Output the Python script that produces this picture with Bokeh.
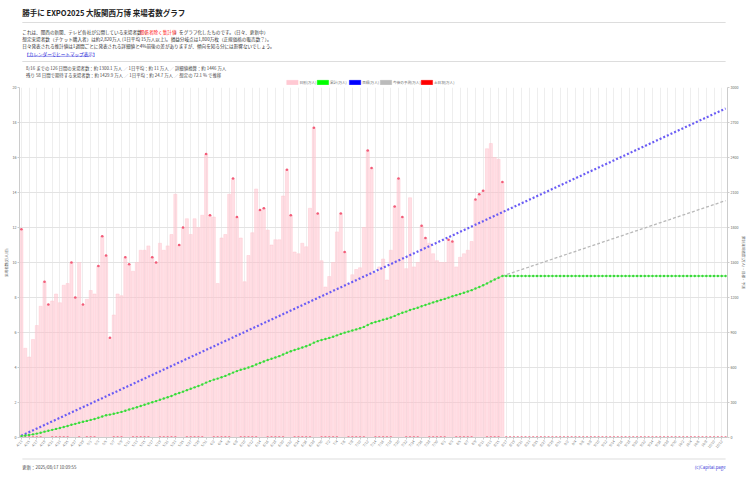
import numpy as np
import pandas as pd
from bokeh.plotting import figure
from bokeh.models import Range1d, LinearAxis, FixedTicker
from bokeh.layouts import column
from bokeh.core.properties import value
from bokeh.embed import file_html
from bokeh.resources import INLINE

FONT = "Noto Sans CJK JP"

# ---------------- data ----------------
start_date = "2025-04-13"
n_days_total = 184
daily = [
    11.9, 5.1, 4.6, 5.6, 6.4, 7.5, 8.9, 7.6, 7.8, 8.2,
    7.7, 8.7, 8.8, 10.0, 8.0, 10.0, 7.6, 7.9, 8.4, 8.2,
    9.8, 11.5, 10.4, 5.7, 7.0, 8.2, 8.1, 10.3, 9.9, 9.5,
    10.0, 10.7, 10.7, 10.95, 10.3, 10.0, 11.1, 10.7, 10.95, 11.6,
    13.9, 11.0, 12.0, 12.5, 11.6, 12.5, 12.0, 12.7, 16.2, 12.7,
    12.6, 8.8, 11.4, 11.6, 13.9, 14.8, 12.6, 11.4, 8.9, 10.4,
    11.7, 14.2, 13.0, 13.1, 11.85, 11.0, 11.3, 11.3, 13.8, 15.3,
    12.7, 10.6, 10.5, 11.1, 10.9, 13.1, 17.7, 12.8, 10.1, 8.6,
    9.2, 10.0, 11.75, 12.8, 10.6, 8.8, 9.3, 9.6, 9.7, 12.0,
    16.4, 15.4, 9.4, 9.75, 10.2, 9.0, 10.7, 13.2, 14.8, 12.6,
    9.65, 13.7, 9.75, 10.0, 12.1, 11.4, 11.1, 10.5, 10.1, 10.0,
    10.0, 11.3, 11.2, 9.75, 10.3, 10.5, 10.7, 11.2, 13.6, 13.9,
    14.1, 16.5, 16.8, 16.0, 15.9, 14.6,
]
target_total = 2820          # 想定来場者数 (万人)
forecast_end = 2030          # 今後の予測 最終値 (万人)
holidays = ["2025-04-29", "2025-05-05", "2025-05-06", "2025-07-21", "2025-08-11"]
left_ticks = [0, 2, 4, 6, 8, 10, 12, 14, 16, 18, 20]
right_ticks = [0, 300, 600, 900, 1200, 1500, 1800, 2100, 2400, 2700, 3000]

legend_labels = ["日別(万人)", "累計(万人)", "目標(万人)", "今後の予測(万人)", "土日祝(万人)"]
legend_colors = ["#ffc9d3", "#00ff00", "#0000ff", "#bbbbbb", "#ff0000"]

# ---------------- derived ----------------
dates = pd.date_range(start_date, periods=n_days_total)
date_labels = [f"{d.month}/{d.day}" for d in dates]
days = np.arange(1, n_days_total + 1)
n = len(daily)
cum = np.cumsum(daily)
cum_all = np.concatenate([cum, np.full(n_days_total - n, cum[-1])])
official = []
for i, d in enumerate(dates):
    is_off = d.weekday() >= 5 or d.strftime("%Y-%m-%d") in holidays
    official.append(daily[i] if (i < n and is_off) else 0)


def T(fig, x, y, s, size, color="#333333", bold=False, align="left"):
    fig.text(x=[x], y=[y], text=[s], text_font=value(FONT), text_font_size=size,
             text_color=color, text_align=align, text_baseline="middle",
             text_font_style="bold" if bold else "normal")


def blank(w, h, y0=0):
    f = figure(width=w, height=h, x_range=Range1d(0, w), y_range=Range1d(y0 + h, y0),
               toolbar_location=None, output_backend="svg", min_border=0,
               x_axis_location=None, y_axis_location=None)
    f.grid.visible = False
    f.outline_line_color = None
    return f

# ---------------- header (page coordinates) ----------------
W = 749
hdr = blank(W, 85)
T(hdr, 3, 11.5, "勝手に EXPO2025 大阪関西万博 来場者数グラフ", "7.5px", "#222222", bold=True)
hdr.segment(x0=[3], y0=[22], x1=[747], y1=[22], line_color="#dddddd", line_width=1)
fs = 4.6
x0 = 3
pre = "これは、関西の新聞、テレビ各社が公開している来場者数（"
red = "関係者除く集計値"
post = "）をグラフ化したものです。（日々、更新中）"
T(hdr, x0, 31, pre, f"{fs}px")
T(hdr, x0 + len(pre) * fs, 31, red, f"{fs}px", "#ff2020")
T(hdr, x0 + (len(pre) + len(red)) * fs, 31, post, f"{fs}px")
T(hdr, x0, 38, "想定来場者数（チケット購入者）は約2,820万人 (1日平均 15万人以上)。損益分岐点は1,800万枚（正規価格の販売数？）。", f"{fs}px")
T(hdr, x0, 45, "日々発表される推計値は1週間ごとに発表される詳細値と4%前後の差がありますが、傾向を知る分には影響ないでしょう。", f"{fs}px")
link = "【カレンダーでヒートマップ表示】"
T(hdr, 5, 53, link, f"{fs}px", "#2a2ad8")
hdr.segment(x0=[5 + fs], y0=[55.8], x1=[5 + (len(link) - 1) * fs], y1=[55.8], line_color="#2a2ad8", line_width=0.5)
hdr.segment(x0=[3], y0=[61], x1=[747], y1=[61], line_color="#dddddd", line_width=1)
T(hdr, 7, 67.7, "8/16 までの 126 日間の来場者数：約 1300.1 万人 ／ 1日平均：約 11 万人 ／ 詳細値換算：約 1446 万人", "4.4px", "#444444")
T(hdr, 7, 74, "残り 58 日間で期待する来場者数：約 1429.9 万人 ／ 1日平均：約 24.7 万人 ／ 想定の 72.1 % で推移", "4.4px", "#444444")

# legend
box_x = [282.7, 315, 349, 381.7, 425]
for bx, lab, col in zip(box_x, legend_labels, legend_colors):
    hdr.rect(x=[bx + 6], y=[82], width=12, height=4.3, fill_color=col,
             line_color=col, line_width=0.5)
    T(hdr, bx + 13.5, 82, lab, "3.6px", "#666666")

# ---------------- chart ----------------
p = figure(width=W, height=372, x_range=Range1d(0.5, n_days_total + 0.5),
           y_range=Range1d(0, 20), toolbar_location=None, output_backend="svg",
           min_border_left=0, min_border_right=0, min_border_top=2,
           min_border_bottom=20)
p.extra_y_ranges = {"cum": Range1d(0, 3000)}
p.outline_line_color = None

p.vbar(x=days[:n], top=daily, width=0.8, fill_color="#ffc0cb", fill_alpha=0.5,
       line_color="#ffc0cb", line_alpha=0.8, line_width=0.5)

# official (weekends / holidays) - drawn under lines
p.scatter(x=days, y=official, size=2.6, fill_color="#f25c78", line_color=None)
# target line
p.line(x=[0, n_days_total], y=[0, target_total], y_range_name="cum",
       line_color="#6a5cf5", line_width=2.2, line_dash="2 2")
# forecast
p.line(x=[n, n_days_total], y=[cum[-1], forecast_end], y_range_name="cum",
       line_color="#b8b8b8", line_width=1.3, line_dash="3 2")
# cumulative
p.line(x=days, y=cum_all, y_range_name="cum", line_color="#7cf07c", line_width=1)
p.scatter(x=days, y=cum_all, y_range_name="cum", size=2.4, fill_color="#3ad83a",
          line_color=None)

# axes
yl = p.yaxis[0]
yl.ticker = FixedTicker(ticks=left_ticks)
yl.axis_label = "来場者数(万人/日)"
right = LinearAxis(y_range_name="cum", ticker=FixedTicker(ticks=right_ticks),
                   axis_label="累計来場者数(万人)・目標・予測")
p.add_layout(right, "right")

for ax in [yl, right]:
    ax.major_label_text_font = FONT
    ax.major_label_text_font_size = "3.6px"
    ax.major_label_text_color = "#666666"
    ax.axis_label_text_font = FONT
    ax.axis_label_text_font_size = "3.6px"
    ax.axis_label_text_font_style = "normal"
    ax.axis_label_text_color = "#666666"
    ax.axis_label_standoff = 0
    ax.major_label_standoff = 1
    ax.axis_line_color = "#cccccc"
    ax.major_tick_line_color = "#cccccc"
    ax.major_tick_out = 2
    ax.major_tick_in = 0
    ax.minor_tick_line_color = None
yl.axis_label_standoff = 1

xa = p.xaxis[0]
x_tick_days = list(range(1, n_days_total + 1, 2))
xa.ticker = FixedTicker(ticks=x_tick_days)
xa.major_label_overrides = {int(d): date_labels[d - 1] for d in x_tick_days}
xa.major_label_orientation = 0.9
xa.major_label_text_font = FONT
xa.major_label_text_font_size = "3.5px"
xa.major_label_text_color = "#777777"
xa.major_label_standoff = 1
xa.axis_line_color = "#cccccc"
xa.major_tick_line_color = "#cccccc"
xa.major_tick_out = 2
xa.major_tick_in = 0
xa.minor_tick_line_color = None

p.xgrid.grid_line_color = "#eeeeee"
p.ygrid.grid_line_color = "#e3e3e3"

# ---------------- footer ----------------
ftr = blank(W, 20, y0=457)
ftr.segment(x0=[3], y0=[458.5], x1=[747], y1=[458.5], line_color="#dddddd", line_width=1)
T(ftr, 3, 466, "更新：2025/08/17 10:09:55", "4.4px", "#444444")
T(ftr, 747, 466, "(c)Capital.page", "4.4px", "#3a3ad8", align="right")

layout = column(hdr, p, ftr, spacing=0)
open("out.html", "w").write(file_html(layout, INLINE))
